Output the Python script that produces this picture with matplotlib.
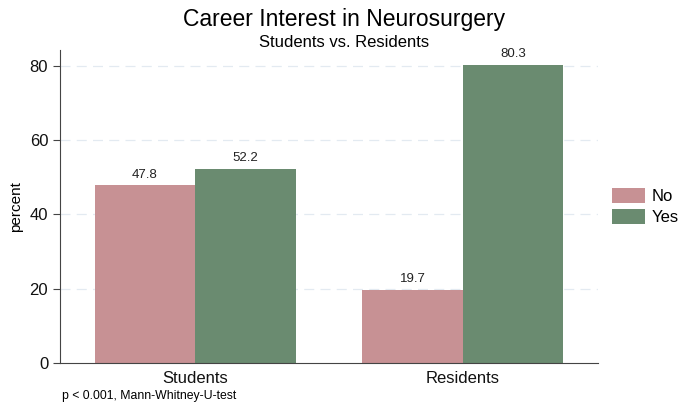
import numpy as np
import matplotlib
matplotlib.use("Agg")
import matplotlib.pyplot as plt

plt.rcParams["font.family"] = ["Liberation Sans", "DejaVu Sans"]

groups = ["Students", "Residents"]
series = ["No", "Yes"]
no_vals = [47.8, 19.7]
yes_vals = [52.2, 80.3]
colors = ["#c79194", "#6a8b70"]

fig = plt.figure(figsize=(6.88, 4.12), dpi=100)
ax = fig.add_axes([0.0872, 0.119, 0.7820, 0.760])

x = np.arange(len(groups))
w = 0.375
b1 = ax.bar(x - w / 2, no_vals, w, color=colors[0], label=series[0], zorder=2)
b2 = ax.bar(x + w / 2, yes_vals, w, color=colors[1], label=series[1], zorder=2)

for bars in (b1, b2):
    for r in bars:
        ax.text(r.get_x() + r.get_width() / 2, r.get_height() + 1.3,
                "%.1f" % r.get_height(), ha="center", va="bottom",
                fontsize=9.5, color="#222222")

ax.set_xlim(-0.504, 1.504)
ax.set_ylim(0, 84.3)
ax.set_xticks(x)
ax.set_xticklabels(groups, fontsize=12, color="#111111")
ax.set_yticks([0, 20, 40, 60, 80])
ax.tick_params(axis="y", labelsize=12, length=5, color="#444444",
               labelcolor="#111111")
ax.tick_params(axis="x", length=0, pad=6)
ax.set_ylabel("percent", fontsize=11, labelpad=5)

for y in [20, 40, 60, 80]:
    ax.axhline(y, color="#e3eaf1", lw=0.9, ls=(0, (8, 5)), zorder=1)

for s in ["top", "right"]:
    ax.spines[s].set_visible(False)
for s in ["left", "bottom"]:
    ax.spines[s].set_color("#444444")

ax.legend(loc="center left", bbox_to_anchor=(1.026, 0.5), frameon=False,
          fontsize=12, handlelength=2.0, handleheight=1.0, labelspacing=0.3,
          handletextpad=0.4, borderpad=0, borderaxespad=0)

fig.text(0.5, 0.953, "Career Interest in Neurosurgery", ha="center",
         va="center", fontsize=16.5)
fig.text(0.5, 0.898, "Students vs. Residents", ha="center", va="center",
         fontsize=12)
fig.text(0.09, 0.038, "p < 0.001, Mann-Whitney-U-test", ha="left",
         va="center", fontsize=8.8)

fig.savefig("out.png", dpi=100)
